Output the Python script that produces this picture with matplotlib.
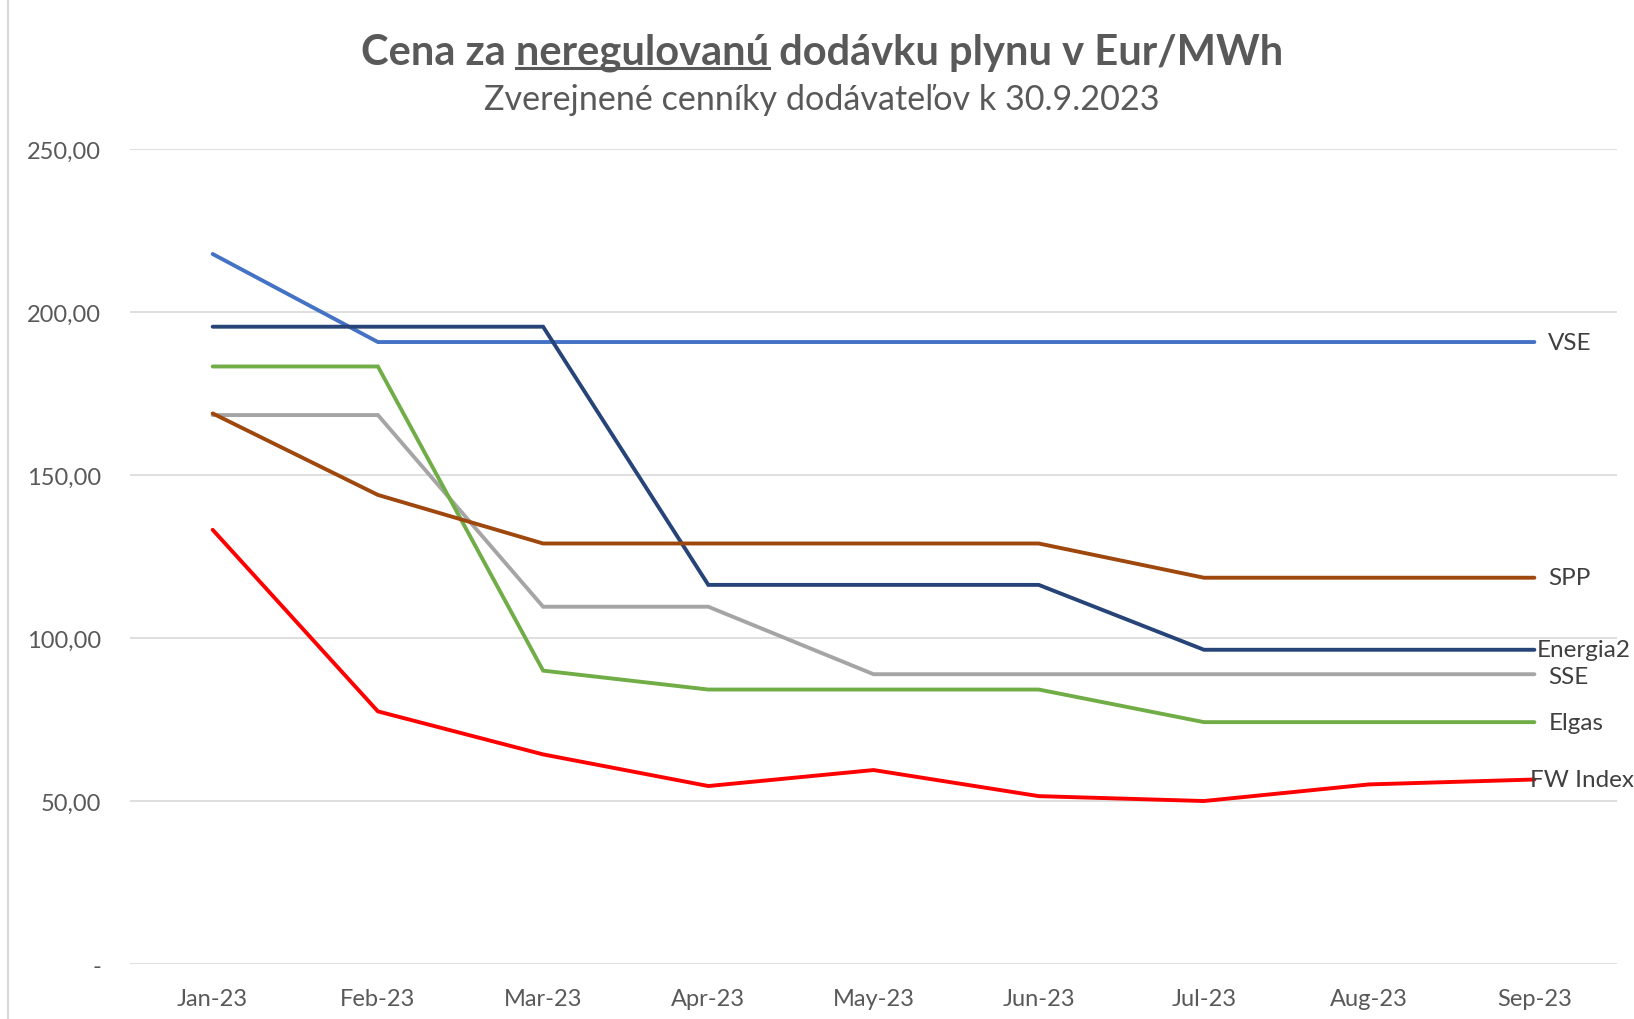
import matplotlib.pyplot as plt
from matplotlib.lines import Line2D
import matplotlib.ticker as mtick

MONTHS = ["Jan-23", "Feb-23", "Mar-23", "Apr-23", "May-23",
          "Jun-23", "Jul-23", "Aug-23", "Sep-23"]

VSE = [217.8, 190.8, 190.8, 190.8, 190.8, 190.8, 190.8, 190.8, 190.8]
ENERGIA2 = [195.5, 195.5, 195.5, 116.3, 116.3, 116.3, 96.4, 96.4, 96.4]
SSE = [168.4, 168.4, 109.6, 109.6, 88.9, 88.9, 88.9, 88.9, 88.9]
ELGAS = [183.3, 183.3, 90.0, 84.2, 84.2, 84.2, 74.2, 74.2, 74.2]
SPP = [168.9, 143.9, 129.0, 129.0, 129.0, 129.0, 118.5, 118.5, 118.5]
FW_INDEX = [133.2, 77.5, 64.3, 54.6, 59.5, 51.5, 50.0, 55.1, 56.6]

# name, values, colour, label offset (points)
SERIES = [
    ("VSE", VSE, "#4472C4", (10, 0)),
    ("Energia2", ENERGIA2, "#264478", (2, 0)),
    ("SSE", SSE, "#A5A5A5", (10, -2)),
    ("Elgas", ELGAS, "#70AD47", (10, 0)),
    ("SPP", SPP, "#9E480E", (10, 0)),
    ("FW Index", FW_INDEX, "#FF0000", (-3, 0)),
]

FONT = ["Lato", "DejaVu Sans"]
GRAY = "#595959"
TITLE_SIZE = 30

plt.rcParams["font.family"] = FONT


def main():
    fig = plt.figure(figsize=(16.34, 10.20), dpi=100)
    ax = fig.add_axes([0.0796, 0.0539, 0.9100, 0.7990])

    x = list(range(len(MONTHS)))
    for name, vals, color, off in SERIES:
        ax.plot(x, vals, color=color, linewidth=2.8,
                solid_capstyle="round", solid_joinstyle="miter", zorder=3)
        ax.annotate(name, (x[-1], vals[-1]), xytext=off,
                    textcoords="offset points", ha="left", va="center",
                    fontsize=17.5, color="#404040", zorder=4,
                    annotation_clip=False)

    ax.set_xlim(-0.5, len(MONTHS) - 0.5)
    ax.set_ylim(0, 250)
    ax.set_xticks(x)
    ax.set_xticklabels(MONTHS)
    ax.set_yticks([0, 50, 100, 150, 200, 250])
    ax.yaxis.set_major_formatter(mtick.FuncFormatter(
        lambda v, _: "-" if v == 0 else f"{v:.2f}".replace(".", ",")))

    ax.tick_params(axis="both", length=0, labelsize=17, labelcolor=GRAY)
    ax.tick_params(axis="y", pad=21)
    ax.tick_params(axis="x", pad=17)
    ax.grid(axis="y", color="#D9D9D9", linewidth=1.2, zorder=0)
    for s in ax.spines.values():
        s.set_visible(False)

    # left border of the chart area
    fig.add_artist(Line2D([0.005, 0.005], [0, 1], color="#D9D9D9",
                          linewidth=1.5, transform=fig.transFigure))

    # title with the underlined word
    title = "Cena za neregulovanú dodávku plynu v Eur/MWh"
    base = 0.9363
    t = fig.text(0.503, base, title, ha="center", va="baseline",
                 fontsize=TITLE_SIZE, fontweight="bold", color=GRAY)
    fig.text(0.503, 0.8925, "Zverejnené cenníky dodávateľov k 30.9.2023",
             ha="center", va="baseline", fontsize=24.6, color=GRAY)

    fig.canvas.draw()
    r = fig.canvas.get_renderer()
    bb = t.get_window_extent(r)

    def width(s):
        tmp = fig.text(0, 0, s, fontsize=TITLE_SIZE, fontweight="bold")
        w = tmp.get_window_extent(r).width
        tmp.remove()
        return w

    w1 = width("Cena za neregulovanú")
    w2 = width("neregulovanú")
    W, H = fig.bbox.width, fig.bbox.height
    x1 = (bb.x0 + w1 - w2) / W
    x2 = (bb.x0 + w1) / W
    y = base - 4.5 / H
    fig.add_artist(Line2D([x1, x2], [y, y], color=GRAY,
                          linewidth=2.2, transform=fig.transFigure))

    fig.savefig("out.png", dpi=100)
    plt.close(fig)


if __name__ == "__main__":
    main()
